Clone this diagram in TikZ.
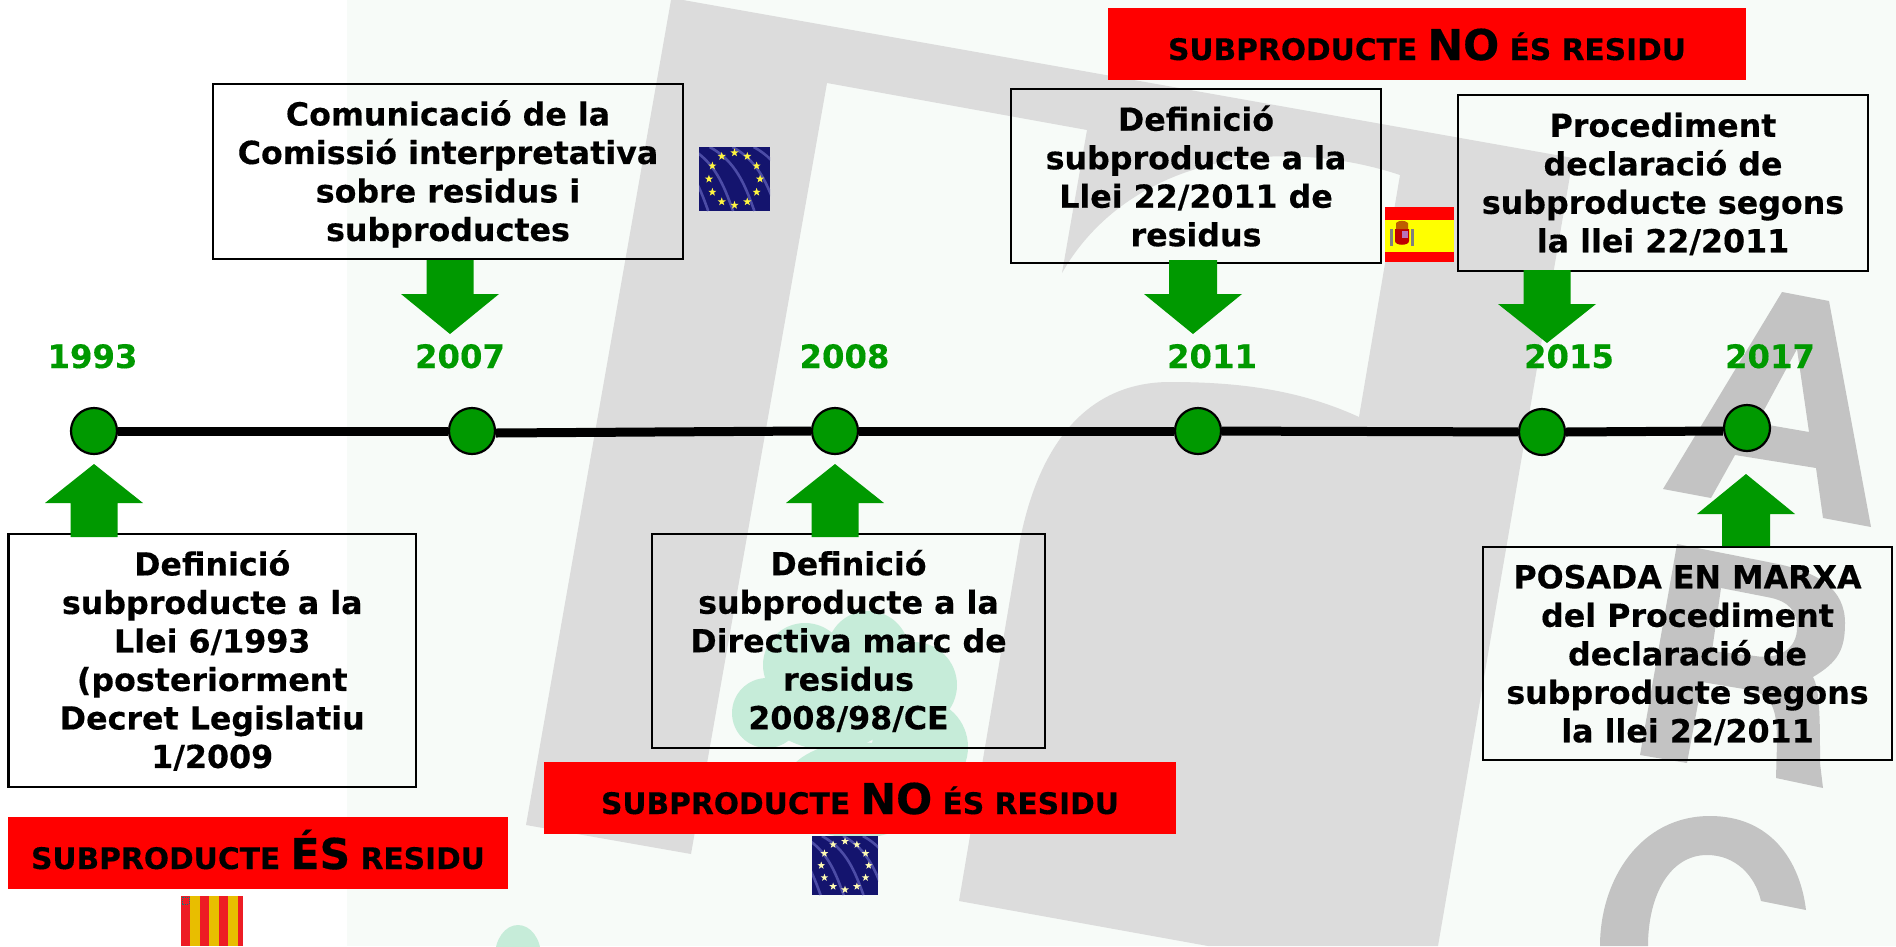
\documentclass[tikz,border=0pt]{standalone}
\usepackage{fontspec}
\setmainfont{DejaVu Sans}[BoldFont={DejaVu Sans Bold},BoldFeatures={FakeBold=0.35}]
\definecolor{pale}{HTML}{F7FBF8}
\definecolor{logogray}{HTML}{DCDCDC}
\definecolor{lettergray}{HTML}{C3C3C3}
\definecolor{leaf}{HTML}{C6ECD9}
\definecolor{tlgreen}{HTML}{009900}
\definecolor{catred}{HTML}{ED1C24}
\definecolor{catyellow}{HTML}{E8BE00}
\definecolor{eublue}{HTML}{14146E}
\definecolor{euwave}{HTML}{5A5AB4}
\definecolor{espyellow}{HTML}{FFFF00}
\tikzset{
  textbox/.style={draw=black,line width=2.4pt,inner sep=0pt,align=center,
    font=\fontsize{31.7}{38.5}\selectfont\bfseries},
  redbox/.style={fill=red,inner sep=0pt,text height=32pt,text depth=0pt,
    font=\fontsize{29.7}{34}\selectfont\bfseries},
  yearlabel/.style={anchor=base,text=tlgreen,inner sep=0pt,
    font=\fontsize{32.3}{36}\selectfont\bfseries},
  milestone/.style={circle,draw=black,line width=2.2pt,fill=tlgreen,
    minimum size=46pt,inner sep=0pt},
  timeline/.style={line width=9pt,black},
  blockarrow/.style={fill=tlgreen},
}
\newcommand{\bignote}[1]{{\fontsize{42.5}{46}\selectfont #1}}
% x-centre, shaft half width, head half width, start y, head y, tip y
\newcommand{\blockarrowshape}[6]{%
  \fill[blockarrow] (#1-#2,#4) -- (#1+#2,#4) -- (#1+#2,#5) -- (#1+#3,#5)
    -- (#1,#6) -- (#1-#3,#5) -- (#1-#2,#5) -- cycle;}
\newcommand{\estar}[4]{%
  \fill[#4,shift={(#1,#2)}] (270:#3) -- (306:#3*0.4) -- (342:#3) -- (18:#3*0.4)
    -- (54:#3) -- (90:#3*0.4) -- (126:#3) -- (162:#3*0.4) -- (198:#3)
    -- (234:#3*0.4) -- cycle;}
% left, top, right, bottom, star colour, star size
\newcommand{\euflag}[6]{%
  \begin{scope}
    \clip (#1,#2) rectangle (#3,#4);
    \fill[eublue] (#1,#2) rectangle (#3,#4);
    \pgfmathsetmacro{\fw}{#3-#1}\pgfmathsetmacro{\fh}{#4-#2}
    \foreach \o in {-0.55,-0.2,0.1,0.42,0.72}{
      \draw[euwave,line width=2.6pt,opacity=.8]
        ({#1+(\o+0.05)*\fw},#2) .. controls ({#1+(\o+0.42)*\fw},{#2+.22*\fh})
        and ({#1+(\o+0.55)*\fw},{#2+.6*\fh}) .. ({#1+(\o+0.68)*\fw},#4);
    }
    \pgfmathsetmacro{\cx}{(#1+#3)/2}\pgfmathsetmacro{\cy}{(#2+#4)/2}
    \pgfmathsetmacro{\rx}{.36*\fw}\pgfmathsetmacro{\ry}{.41*\fh}
    \foreach \a in {0,30,...,330}{
      \pgfmathsetmacro{\sx}{\cx+\rx*cos(\a)}\pgfmathsetmacro{\sy}{\cy+\ry*sin(\a)}
      \estar{\sx}{\sy}{#6}{#5}
    }
  \end{scope}}
\begin{document}
\begin{tikzpicture}[x=1pt,y=-1pt]
\useasboundingbox (0,0) rectangle (1896,946);
\fill[white] (0,0) rectangle (1896,946);
\fill[pale] (347,0) rectangle (1896,946);

% logo: large grey shape
\fill[logogray] (671,0) -- (683,0) -- (948,47) -- (1573,158) -- (1438,946)
  -- (1208,946) -- (959,901) -- (1020,540)
  .. controls (1040,440) and (1090,382) .. (1170,382)
  .. controls (1240,382) and (1300,390) .. (1359,417)
  -- (1400,175)
  .. controls (1340,155) and (1270,150) .. (1210,165)
  .. controls (1150,180) and (1095,215) .. (1062,273)
  -- (1087,130) -- (827,83) -- (691,854) -- (526,825) -- cycle;

% logo: letter A
\fill[lettergray,even odd rule] (1782,292) -- (1829,301) -- (1871,527) -- (1823,518)
  -- (1816,468) -- (1735,455) -- (1711,498) -- (1663,489) -- cycle
  (1797,349) -- (1809,432) -- (1757,423) -- cycle;
% logo: letter R
\fill[lettergray,even odd rule] (1677,544) -- (1773,563)
  .. controls (1820,572) and (1845,590) .. (1845,623)
  .. controls (1845,650) and (1838,662) .. (1813,677)
  .. controls (1820,690) and (1820,720) .. (1820,763)
  -- (1823,788) -- (1776,778) -- (1777,743)
  .. controls (1777,715) and (1775,695) .. (1750,690)
  -- (1702,682) -- (1687,763) -- (1640,755) -- cycle
  (1721,588) -- (1767,597) .. controls (1790,601) and (1797,612) .. (1797,628)
  .. controls (1797,648) and (1780,660) .. (1755,656) -- (1712,651) -- cycle;
% logo: letter C
\fill[lettergray] (1600,946) .. controls (1600,880) and (1640,816) .. (1710,816)
  .. controls (1770,816) and (1800,860) .. (1806,910)
  -- (1761,901) .. controls (1755,875) and (1735,855) .. (1707,855)
  .. controls (1670,855) and (1648,895) .. (1648,946) -- cycle;

% leaf blob
\fill[leaf] (805,665) circle[radius=42];
\fill[leaf] (868,652) circle[radius=41];
\fill[leaf] (914,685) circle[radius=43];
\fill[leaf] (767,713) circle[radius=35];
\fill[leaf] (920,747) circle[radius=48];
\fill[leaf] (830,700) ellipse[x radius=70,y radius=50];
\fill[leaf] (857,790) ellipse[x radius=75,y radius=48];
\fill[leaf] (518,956) ellipse[x radius=23,y radius=31];

% milestones
\node[milestone] (c1993) at (94,431) {};
\node[milestone] (c2007) at (472,431) {};
\node[milestone] (c2008) at (835,431) {};
\node[milestone] (c2011) at (1198,431) {};
\node[milestone] (c2015) at (1542,432) {};
\node[milestone] (c2017) at (1747,428) {};
\draw[timeline] (c1993) -- (c2007);
\draw[timeline] ([yshift=-2pt]c2007.east) -- (c2008.west);
\draw[timeline] (c2008) -- (c2011);
\draw[timeline] (c2011) -- (c2015);
\draw[timeline] (c2015.east) -- ([yshift=-3pt]c2017.west);

% years
\node[yearlabel] (y1993) at (92.5,368) {1993};
\node[yearlabel] (y2007) at (460,368) {2007};
\node[yearlabel] (y2008) at (844.5,368) {2008};
\node[yearlabel] (y2011) at (1212,368) {2011};
\node[yearlabel] (y2015) at (1569,368) {2015};
\node[yearlabel] (y2017) at (1770,368) {2017};

% text boxes
\node[textbox,minimum width=470pt,minimum height=175pt] (b2007) at (448,171.5)
  {\rule{0pt}{30pt}Comunicació de la\\Comissió interpretativa\\sobre residus i\\subproductes};
\node[textbox,minimum width=370pt,minimum height=174pt] (b2011) at (1196,176)
  {Definició\\subproducte a la\\Llei 22/2011 de\\residus};
\node[textbox,minimum width=410pt,minimum height=176pt] (b2015) at (1663,183)
  {\rule{0pt}{26pt}Procediment\\declaració de\\subproducte segons\\la llei 22/2011};
\node[textbox,minimum width=407.5pt,minimum height=253pt] (b1993) at (212.25,660.5)
  {Definició\\subproducte a la\\Llei 6/1993\\(posteriorment\\Decret Legislatiu\\1/2009};
\node[textbox,minimum width=393pt,minimum height=214pt] (b2008) at (848.5,641)
  {Definició\\subproducte a la\\Directiva marc de\\residus\\2008/98/CE};
\node[textbox,minimum width=409pt,minimum height=213pt] (b2017) at (1687.5,653.5)
  {\rule{0pt}{26.5pt}POSADA EN MARXA\\del Procediment\\declaració de\\subproducte segons\\la llei 22/2011};

% block arrows
\blockarrowshape{450}{23.5}{49}{260}{294}{334}
\blockarrowshape{1193}{24}{49}{260}{294}{334}
\blockarrowshape{1547}{23.5}{49}{270}{304}{343}
\blockarrowshape{94}{23.5}{49}{537}{503}{464}
\blockarrowshape{835}{23.5}{49}{537}{503}{464}
\blockarrowshape{1746}{24}{49}{546}{514}{474}

% red banners
\node[redbox,minimum width=638pt,minimum height=72pt] (r2011) at (1427,44)
  {SUBPRODUCTE \bignote{NO} ÉS RESIDU};
\node[redbox,minimum width=500pt,minimum height=72pt] (r1993) at (258,853)
  {SUBPRODUCTE \bignote{ÉS} RESIDU};
\node[redbox,minimum width=632pt,minimum height=72pt] (r2008) at (860,798)
  {SUBPRODUCTE \bignote{NO} ÉS RESIDU};

% flags
\euflag{699}{147}{770}{211}{yellow!75!white}{4.3}
\euflag{812}{836}{878}{895}{white!70!yellow}{4}

% Spanish flag
\fill[red] (1385,207) rectangle (1454,262);
\fill[espyellow] (1385,220) rectangle (1454,252);
\fill[red!75!black] (1395,229) -- (1409,229) -- (1409,241) .. controls (1409,246) and (1395,246) .. (1395,241) -- cycle;
\fill[catyellow!70!black!70!red] (1396,223) .. controls (1399,220) and (1405,220) .. (1408,223) -- (1408,229) -- (1396,229) -- cycle;
\fill[violet!55!white] (1402,231) rectangle (1408,238);
\fill[gray] (1390,229) rectangle (1392.5,246);
\fill[gray] (1411,229) rectangle (1413.5,246);

% Catalan flag
\fill[catred] (181,896) rectangle (243,946);
\foreach \sx in {190,209,228}{\fill[catyellow] (\sx,896) rectangle (\sx+10,946);}
\draw[teal,densely dotted,line width=1pt] (182,897) rectangle (189,904);
\end{tikzpicture}
\end{document}
